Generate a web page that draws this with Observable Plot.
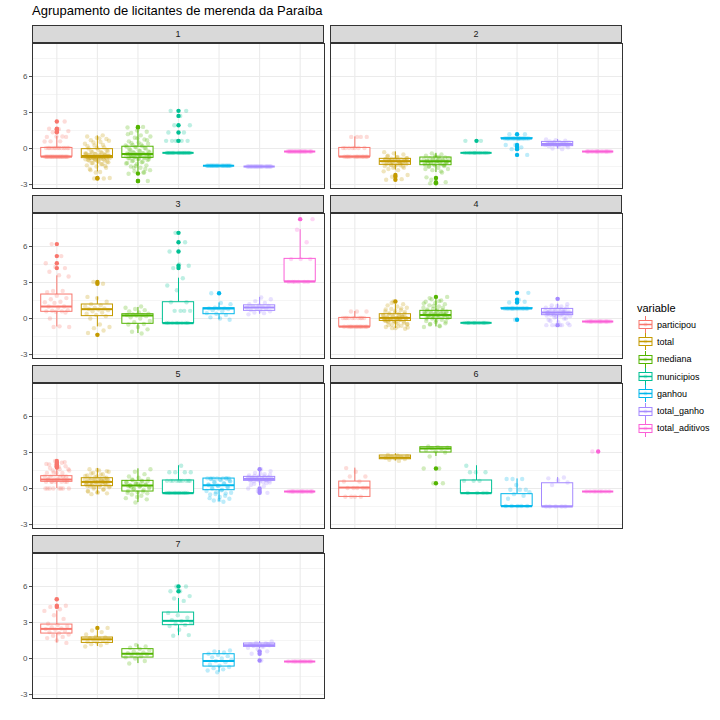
<!DOCTYPE html>
<html><head><meta charset="utf-8">
<script src="https://cdn.jsdelivr.net/npm/d3@7"></script>
<script src="https://cdn.jsdelivr.net/npm/@observablehq/plot@0.6"></script>
<style>
body{margin:0;background:#fff;font-family:"Liberation Sans",Arial,sans-serif;}
#wrap{position:relative;width:720px;height:720px;background:#fff;overflow:hidden;}
.strip{position:absolute;box-sizing:border-box;height:18px;border:1px solid #333;background:#D9D9D9;color:#1A1A1A;font-size:9px;line-height:16px;text-align:center;}
.title{position:absolute;left:32px;top:3px;font-size:13px;color:#000;white-space:nowrap;}
.leg{position:absolute;left:637px;top:302px;font-size:9px;color:#000;}
.leg .lt{font-size:11px;margin-bottom:2px;}
.leg .it{display:flex;align-items:center;height:17.3px;}
.leg .it span{margin-left:3px;}
</style></head>
<body><div id="wrap"></div>
<script>
const variables = ["participou","total","mediana","municipios","ganhou","total_ganho","total_aditivos"];
const colors = ["#F8766D","#C49A00","#53B400","#00C094","#00B6EB","#A58AFF","#FB61D7"];
const clusters = ["1","2","3","4","5","6","7"];
const yTicks = [-3,0,3,6];
const yMinor = [-1.5,1.5,4.5,7.5];
const titleText = "Agrupamento de licitantes de merenda da Paraíba";
const legendTitle = "variable";

// box stats per variable: [lower whisker, q1, median, q3, upper whisker]
const box1 = [[-0.68,-0.68,-0.68,0.05,1.0],[-1.95,-0.8,-0.62,-0.05,1.05],[-1.95,-0.78,-0.45,0.15,1.5],[-0.36,-0.36,-0.36,-0.36,-0.36],[-1.44,-1.44,-1.44,-1.44,-1.44],[-1.5,-1.5,-1.5,-1.5,-1.5],[-0.25,-0.25,-0.25,-0.25,-0.25]];
const box2 = [[-0.68,-0.68,-0.68,0.05,0.97],[-1.8,-1.36,-1.05,-0.86,-0.28],[-2.0,-1.39,-1.05,-0.75,-0.4],[-0.36,-0.36,-0.36,-0.36,-0.36],[0.83,0.83,0.83,0.86,0.86],[-0.05,0.2,0.38,0.55,0.75],[-0.25,-0.25,-0.25,-0.25,-0.25]];
const box3 = [[-0.7,0.56,1.0,2.0,3.55],[-0.7,0.2,0.78,1.17,1.8],[-1.25,-0.44,0.25,0.36,0.92],[-0.39,-0.39,-0.39,1.36,3.36],[-0.1,0.36,0.83,0.86,1.3],[0.35,0.64,0.92,1.1,1.75],[3.08,3.08,3.08,4.97,7.4]];
const box4 = [[-0.68,-0.68,-0.68,0.05,0.58],[-0.83,-0.2,0.05,0.36,1.2],[-0.7,-0.03,0.3,0.64,1.6],[-0.36,-0.36,-0.36,-0.36,-0.36],[0.83,0.83,0.83,0.86,0.86],[-0.4,0.28,0.5,0.8,1.2],[-0.25,-0.25,-0.25,-0.25,-0.25]];
const box5 = [[0.0,0.56,0.75,1.03,1.7],[-0.47,0.2,0.55,0.86,1.67],[-1.17,-0.25,0.25,0.64,1.64],[-0.39,-0.39,-0.39,0.67,1.9],[-1.1,-0.14,0.28,0.83,0.85],[0.2,0.64,0.8,0.97,1.45],[-0.25,-0.25,-0.25,-0.25,-0.25]];
const box6 = [[-0.7,-0.7,0.08,0.58,1.7],[2.3,2.44,2.58,2.75,2.9],[2.67,3.0,3.33,3.44,3.5],[-0.39,-0.39,-0.39,0.67,1.9],[-1.47,-1.47,-1.47,-0.47,0.8],[-1.5,-1.5,-1.5,0.44,0.92],[-0.25,-0.25,-0.25,-0.25,-0.25]];
const box7 = [[1.3,2.08,2.47,2.83,3.97],[1.0,1.3,1.6,1.75,2.33],[-0.42,0.08,0.39,0.78,1.14],[1.9,2.78,3.14,3.83,5.0],[-1.14,-0.67,-0.2,0.36,0.67],[0.8,0.97,1.11,1.25,1.42],[-0.25,-0.25,-0.25,-0.25,-0.25]];

// outliers per variable
const out1 = [[1.35,1.45,1.6,1.65,2.25],[-2.5,-2.45],[-2.08,-2.7,-2.7,1.75,1.8],[0.64,1.33,1.94,2.72,3.14],[],[],[]];
const out2 = [[],[-2.2,-2.35,-2.6],[-2.45,-2.8,-2.9],[0.64],[1.19,0.3,0.12,-0.05,-0.53],[],[]];
const out3 = [[4.2,4.6,5.2,6.2],[-1.36,2.9,3.05],[],[4.2,4.4,5.58,6.36,7.14],[2.1],[],[8.28]];
const out4 = [[],[1.42],[1.8],[],[2.14,1.56,1.33,-0.1],[1.64,-0.55],[]];
const out5 = [[1.75,1.85,1.95,2.05,2.15,2.3],[],[],[],[],[1.6,0.0,-0.2,-0.36],[]];
const out6 = [[],[],[1.67,0.44],[],[],[],[3.08]];
const out7 = [[4.3,4.4,4.94],[2.55],[],[5.6,6.0],[],[0.6,0.4,-0.17],[]];

// jittered observations per variable
const pts1 = [
 [-0.68,-0.68,-0.68,-0.68,-0.68,-0.68,-0.68,-0.68,-0.68,-0.68,-0.68,-0.68,-0.68,-0.68,-0.68,-0.68,-0.68,-0.68,-0.68,-0.68,0.05,0.05,0.05,0.05,0.05,0.05,0.05,0.05,0.05,0.05,0.05,0.05,0.05,0.58,0.6,0.6,0.97,1.0,0.97,1.0,1.35,1.45,1.6,1.65,2.25],
 [-2.5,-2.5,-2.45,-1.95,-1.8,-1.6,-1.5,-1.4,-1.3,-1.2,-1.15,-1.1,-1.0,-1.0,-0.95,-0.9,-0.85,-0.8,-0.8,-0.75,-0.7,-0.7,-0.65,-0.6,-0.6,-0.55,-0.5,-0.45,-0.4,-0.35,-0.3,-0.2,-0.1,0.0,0.1,0.25,0.4,0.55,0.7,0.8,0.9,1.0,1.1,-0.75,-0.65,-0.7,-0.8,-0.6,-0.9,-0.5,
  -1.3,-1.2,-1.1,-1.05,-0.95,-0.9,-0.85,-0.8,-0.78,-0.75,-0.72,-0.7,-0.68,-0.66,-0.64,-0.6,-0.58,-0.55,-0.5,-0.45,-0.4,-0.3,-0.25,-0.15,0.05,0.2,0.3,0.5,0.65,0.85,-1.7,-1.45,-2.0],
 [-2.7,-2.7,-2.1,-2.0,-1.9,-1.8,-1.6,-1.5,-1.4,-1.3,-1.2,-1.1,-1.0,-0.9,-0.85,-0.8,-0.75,-0.7,-0.65,-0.6,-0.55,-0.5,-0.5,-0.45,-0.4,-0.35,-0.3,-0.2,-0.1,0.0,0.1,0.15,0.2,0.3,0.4,0.5,0.6,0.75,0.9,1.0,1.1,1.3,1.4,1.5,1.75,1.8,-0.6,-0.7,-0.5,-0.4,
  -1.7,-1.45,-1.25,-1.15,-1.05,-0.95,-0.88,-0.82,-0.78,-0.72,-0.68,-0.62,-0.58,-0.52,-0.48,-0.42,-0.38,-0.3,-0.25,-0.15,-0.05,0.05,0.12,0.25,0.35,0.45,0.7,0.85,1.2,-2.0,-1.6,-0.6,-0.55,-0.5],
 [-0.36,-0.36,-0.36,-0.36,-0.36,-0.36,-0.36,-0.36,-0.36,-0.36,-0.36,-0.36,-0.36,-0.36,-0.36,-0.36,-0.36,-0.36,-0.36,-0.36,0.64,0.64,0.64,0.64,0.64,0.64,1.33,1.33,1.94,1.94,2.72,3.14,3.14],
 [-1.44,-1.44,-1.44,-1.44,-1.44,-1.44,-1.44,-1.44,-1.44,-1.44,-1.44,-1.44,-1.44,-1.44,-1.44,-1.44,-1.44,-1.44,-1.44,-1.44],
 [-1.5,-1.5,-1.5,-1.5,-1.5,-1.5,-1.5,-1.5,-1.5,-1.5,-1.5,-1.5,-1.5,-1.5,-1.5,-1.5,-1.5,-1.5,-1.5,-1.5],
 [-0.25,-0.25,-0.25,-0.25,-0.25,-0.25,-0.25,-0.25,-0.25,-0.25,-0.25,-0.25,-0.25,-0.25,-0.25,-0.25,-0.25,-0.25,-0.25,-0.25]];
const pts2 = [
 [-0.68,-0.68,-0.68,-0.68,-0.68,-0.68,-0.68,-0.68,-0.68,-0.68,-0.68,-0.68,0.05,0.05,0.05,0.05,0.05,0.05,0.05,0.97,0.97,0.97,0.97],
 [-2.6,-2.55,-2.35,-2.2,-1.8,-1.7,-1.6,-1.5,-1.45,-1.4,-1.35,-1.3,-1.25,-1.2,-1.15,-1.1,-1.1,-1.05,-1.0,-1.0,-0.95,-0.9,-0.9,-0.85,-0.8,-0.7,-0.6,-0.5,-0.4,-0.3,-1.2,-1.0,-1.1,
  -1.4,-1.3,-1.2,-1.15,-1.1,-1.05,-1.0,-0.95,-0.9,-0.88,-1.25,-1.35,-0.8,-0.75,-0.65,-1.5,-1.6,-1.9],
 [-2.9,-2.8,-2.45,-2.4,-2.0,-1.8,-1.7,-1.6,-1.5,-1.45,-1.4,-1.35,-1.3,-1.2,-1.15,-1.1,-1.05,-1.0,-0.95,-0.9,-0.85,-0.8,-0.75,-0.7,-0.6,-0.5,-0.4,-1.1,-1.0,-1.2,
  -1.4,-1.3,-1.25,-1.2,-1.15,-1.1,-1.05,-1.0,-0.95,-0.9,-0.8,-0.7,-1.5,-1.35,-0.6,-1.7,-1.9,-2.6],
 [-0.36,-0.36,-0.36,-0.36,-0.36,-0.36,-0.36,-0.36,-0.36,-0.36,-0.36,-0.36,-0.36,-0.36,0.64,0.64],
 [0.83,0.83,0.83,0.83,0.83,0.83,0.83,0.83,0.83,0.83,0.83,0.83,0.83,0.83,1.19,1.19,0.3,0.3,0.1,-0.05,-0.53],
 [-0.05,0.0,0.1,0.15,0.2,0.25,0.3,0.3,0.35,0.35,0.38,0.4,0.4,0.45,0.5,0.5,0.55,0.6,0.65,0.7,0.75,0.35,0.45,0.25,0.3,0.4,0.45,0.5],
 [-0.25,-0.25,-0.25,-0.25,-0.25,-0.25,-0.25,-0.25,-0.25,-0.25,-0.25,-0.25,-0.25,-0.25,-0.25,-0.25]];
const pts3 = [
 [-0.7,-0.7,-0.65,0.0,0.5,0.56,0.6,0.6,0.65,0.7,0.9,1.0,1.0,1.3,1.35,1.4,1.6,1.7,1.9,2.2,2.3,2.3,3.5,3.6,3.9,4.2,4.3,4.6,5.2,6.2],
 [-1.35,-1.2,-1.0,-0.8,-0.7,-0.5,0.0,0.2,0.3,0.4,0.5,0.6,0.7,0.75,0.8,0.85,0.9,1.0,1.1,1.2,1.4,1.7,1.8,2.9,3.05],
 [-1.25,-1.1,-0.9,-0.7,-0.5,-0.45,-0.3,-0.2,0.0,0.1,0.2,0.25,0.3,0.3,0.35,0.4,0.5,0.6,0.7,0.8,0.9,1.0],
 [-0.36,-0.36,-0.36,-0.36,-0.36,-0.36,-0.36,-0.36,0.64,0.64,0.64,0.64,1.35,1.35,2.35,2.75,3.35,4.2,4.4,4.5,5.58,6.36,7.14],
 [-0.1,0.0,0.1,0.3,0.4,0.45,0.6,0.7,0.8,0.83,0.85,0.85,0.9,1.2,1.3,2.1],
 [0.35,0.45,0.5,0.6,0.65,0.7,0.8,0.85,0.9,0.95,1.0,1.05,1.1,1.2,1.3,1.45,1.6,1.75],
 [3.05,3.05,3.05,3.05,3.05,3.05,4.95,4.95,4.95,6.35,7.4,8.28]];
const pts4 = [
 [-0.68,-0.68,-0.68,-0.68,-0.68,-0.68,-0.68,-0.68,-0.68,-0.68,-0.68,-0.68,0.05,0.05,0.05,0.05,0.05,0.05,0.05,0.05,0.05,0.05,0.58,0.58,0.58],
 [-0.85,-0.8,-0.7,-0.6,-0.5,-0.45,-0.4,-0.3,-0.25,-0.2,-0.15,-0.1,-0.05,0.0,0.05,0.1,0.15,0.2,0.25,0.3,0.35,0.4,0.5,0.6,0.7,0.8,0.9,1.0,1.1,1.2,1.42,0.0,0.05,-0.1,0.1,-0.3,-0.2,0.2,
  -0.8,-0.75,-0.65,-0.55,-0.35,-0.25,-0.15,-0.1,-0.05,0.0,0.05,0.1,0.15,0.2,0.3,0.4,0.45,0.55,0.65,0.75,0.85,1.3,-0.5,0.0,-0.2],
 [-0.7,-0.6,-0.5,-0.4,-0.3,-0.2,-0.1,0.0,0.05,0.1,0.2,0.25,0.3,0.35,0.4,0.45,0.5,0.6,0.65,0.7,0.8,0.9,1.0,1.1,1.2,1.3,1.4,1.5,1.6,1.8,0.3,0.2,0.4,0.1,0.5,
  -0.65,-0.45,-0.25,-0.15,0.0,0.1,0.15,0.2,0.25,0.3,0.35,0.4,0.45,0.5,0.55,0.6,0.7,0.75,0.9,1.05,1.25,1.45,1.7,0.3,0.4],
 [-0.36,-0.36,-0.36,-0.36,-0.36,-0.36,-0.36,-0.36,-0.36,-0.36,-0.36,-0.36,-0.36,-0.36,-0.36,-0.36],
 [0.83,0.83,0.83,0.83,0.83,0.83,0.83,0.83,0.83,0.83,0.83,0.83,0.83,0.83,2.14,1.56,1.33,1.4,-0.1],
 [-0.55,-0.55,-0.55,-0.55,-0.4,-0.3,-0.1,0.0,0.1,0.2,0.25,0.3,0.35,0.4,0.45,0.5,0.55,0.6,0.65,0.7,0.75,0.8,0.9,1.0,1.1,1.2,1.64,0.4,0.5,0.3,
  -0.55,-0.55,-0.2,0.0,0.15,0.25,0.35,0.4,0.45,0.5,0.55,0.6,0.65,0.7,0.8,0.85,0.95,1.05,0.5,0.6],
 [-0.25,-0.25,-0.25,-0.25,-0.25,-0.25,-0.25,-0.25,-0.25,-0.25,-0.25,-0.25,-0.25,-0.25,-0.25,-0.25]];
const pts5 = [
 [0.0,0.0,0.0,0.0,0.0,0.0,0.56,0.56,0.56,0.56,0.56,0.75,0.75,0.75,0.75,0.75,1.0,1.0,1.0,1.0,1.3,1.3,1.3,1.5,1.6,1.8,2.0,2.2,2.3,
  0.0,0.0,0.56,0.56,0.75,0.75,1.0,1.3,1.5,1.6,1.7,1.85,1.95,2.05,2.15],
 [-0.47,-0.4,-0.3,-0.2,-0.1,0.0,0.1,0.15,0.2,0.25,0.3,0.35,0.4,0.45,0.5,0.55,0.6,0.65,0.7,0.75,0.8,0.85,0.9,1.0,1.1,1.2,1.3,1.4,1.5,1.6,0.5,0.6,0.4,0.7,0.3,0.8,
  -0.35,-0.25,-0.05,0.1,0.2,0.3,0.4,0.45,0.5,0.55,0.6,0.65,0.7,0.75,0.85,0.9,0.95,1.05,1.15,1.25,1.45,1.55,0.2,0.55],
 [-1.17,-0.8,-0.6,-0.5,-0.4,-0.3,-0.2,-0.1,0.0,0.1,0.2,0.25,0.3,0.4,0.5,0.6,0.7,0.8,0.9,1.0,1.2,1.4,1.6,0.3,0.1,
  -0.9,-0.7,-0.35,-0.25,-0.05,0.05,0.15,0.25,0.35,0.45,0.55,0.65,0.75,0.6,0.4,0.2],
 [-0.36,-0.36,-0.36,-0.36,-0.36,-0.36,-0.36,-0.36,-0.36,-0.36,-0.36,-0.36,0.64,0.64,0.64,0.64,0.64,0.64,0.64,0.64,0.64,0.64,1.35,1.35,1.35,1.35,1.9],
 [-1.1,-1.0,-0.85,-0.7,-0.5,-0.4,-0.3,-0.2,-0.1,0.0,0.1,0.2,0.3,0.4,0.5,0.6,0.7,0.8,0.83,0.83,0.85,0.85,0.83,0.83,
  -0.95,-0.8,-0.6,-0.45,-0.35,-0.15,0.05,0.15,0.25,0.35,0.45,0.55,0.65,0.75,0.83,0.85],
 [-0.36,-0.2,0.0,0.2,0.4,0.5,0.6,0.65,0.7,0.75,0.8,0.85,0.9,0.95,1.0,1.1,1.2,1.3,1.45,1.6,0.8,0.7,0.75,0.85,
  0.55,0.6,0.65,0.7,0.72,0.75,0.78,0.8,0.82,0.85,0.88,0.9,0.95,1.0,1.05,1.15,1.25,0.3,0.45],
 [-0.25,-0.25,-0.25,-0.25,-0.25,-0.25,-0.25,-0.25,-0.25,-0.25,-0.25,-0.25,-0.25,-0.25,-0.25,-0.25]];
const pts6 = [
 [-0.68,-0.68,-0.68,-0.68,0.05,0.05,0.05,0.05,0.05,0.58,0.58,1.0,1.0,1.4,1.7],
 [2.3,2.4,2.45,2.5,2.55,2.6,2.65,2.7,2.75,2.8],
 [0.44,0.44,1.67,1.67,2.67,3.0,3.1,3.2,3.3,3.35,3.4,3.45,3.5],
 [-0.36,-0.36,-0.36,-0.36,0.64,0.64,0.64,1.35,1.35,1.35,1.9],
 [-1.45,-1.45,-1.45,-1.45,-1.45,-0.85,-0.6,-0.47,-0.3,-0.1,-0.1,-0.1,0.3,0.8,0.8,0.8],
 [-1.5,-1.5,-1.5,-1.5,-1.5,0.3,0.5,0.7,0.85,0.92],
 [-0.25,-0.25,-0.25,-0.25,-0.25,-0.25,-0.25,-0.25,3.08]];
const pts7 = [
 [1.3,1.5,1.7,1.8,1.9,2.0,2.1,2.2,2.3,2.4,2.45,2.5,2.6,2.7,2.8,2.9,3.3,3.6,3.97,4.1,4.3,4.4,4.94],
 [1.0,1.1,1.2,1.3,1.35,1.4,1.5,1.55,1.6,1.65,1.7,1.75,1.8,2.0,2.2,2.33,2.55],
 [-0.42,-0.2,0.0,0.1,0.2,0.3,0.35,0.4,0.45,0.5,0.6,0.7,0.8,0.9,1.0,1.14],
 [1.9,1.95,2.4,2.7,2.8,2.9,3.0,3.1,3.2,3.4,3.6,3.8,4.8,5.0,5.2,5.6,5.6,6.0,6.0],
 [-1.14,-1.0,-0.9,-0.8,-0.7,-0.6,-0.5,-0.3,-0.2,-0.1,0.0,0.1,0.2,0.3,0.4,0.5,0.6,0.67],
 [-0.17,0.4,0.6,0.8,0.9,1.0,1.05,1.1,1.15,1.2,1.25,1.3,1.42,1.0,1.1,1.2],
 [-0.25,-0.25,-0.25,-0.25,-0.25,-0.25,-0.25,-0.25,-0.25,-0.25,-0.25,-0.25]];

const boxes = [box1,box2,box3,box4,box5,box6,box7];
const outs = [out1,out2,out3,out4,out5,out6,out7];
const ptss = [pts1,pts2,pts3,pts4,pts5,pts6,pts7];

const wrap = document.getElementById("wrap");
const FONT = '"Liberation Sans", Arial, sans-serif';
const PW = 292, PH = 145, HW = 0.385, JW = 0.62;
const colX = [32, 330];
const rowTop = [43, 213, 383, 553];

function jit(k, i, c) { // deterministic horizontal spread (display only)
  const f = ((k + 1) * 0.6180339887 + i * 0.137 + c * 0.377) % 1;
  return (f - 0.5) * JW;
}

const t = document.createElement("div");
t.className = "title"; t.textContent = titleText; wrap.appendChild(t);

clusters.forEach((cl, ci) => {
  const col = ci % 2, row = Math.floor(ci / 2);
  const isLeft = col === 0;
  const s = document.createElement("div");
  s.className = "strip";
  s.style.left = colX[col] + "px";
  s.style.top = (rowTop[row] - 18) + "px";
  s.style.width = PW + "px";
  s.textContent = cl;
  wrap.appendChild(s);

  const boxData = boxes[ci].map((b, i) => ({i, v: variables[i], lo: b[0], q1: b[1], med: b[2], q3: b[3], hi: b[4]}));
  const outData = outs[ci].flatMap((arr, i) => arr.map(y => ({i, v: variables[i], y})));
  const ptData = ptss[ci].flatMap((arr, i) => arr.map((y, k) => ({x: i + jit(k, i, ci), v: variables[i], y})));
  const ml = isLeft ? 32 : 0;
  const marks = [
    Plot.ruleY(yMinor, {stroke: "#EBEBEB", strokeWidth: 0.55}),
    Plot.ruleY(yTicks, {stroke: "#EBEBEB", strokeWidth: 1.1}),
    Plot.ruleX(d3.range(variables.length), {stroke: "#EBEBEB", strokeWidth: 1.1}),
    Plot.ruleX(boxData, {x: "i", y1: "q3", y2: "hi", stroke: "v", strokeWidth: 1}),
    Plot.ruleX(boxData, {x: "i", y1: "lo", y2: "q1", stroke: "v", strokeWidth: 1}),
    Plot.rect(boxData.filter(d => d.q3 > d.q1), {x1: d => d.i - HW, x2: d => d.i + HW, y1: "q1", y2: "q3", fill: "white", stroke: "v", strokeWidth: 1}),
    Plot.ruleY(boxData, {y: "med", x1: d => d.i - HW, x2: d => d.i + HW, stroke: "v", strokeWidth: 2}),
    Plot.dot(outData, {x: "i", y: "y", fill: "v", r: 2.2}),
    Plot.dot(ptData, {x: "x", y: "y", fill: "v", fillOpacity: 0.26, r: 2.2}),
    Plot.frame({stroke: "#333", strokeWidth: 1})
  ];
  if (isLeft) marks.push(Plot.axisY(yTicks, {tickSize: 3, tickPadding: 2, fontSize: 8, color: "#4D4D4D", tickFormat: d => String(d)}));
  const chart = Plot.plot({
    width: PW + ml, height: PH,
    marginLeft: ml, marginRight: 0, marginTop: 0, marginBottom: 0,
    x: {domain: [-0.6, 6.6], axis: null},
    y: {domain: [-3.33, 8.75], axis: null},
    color: {domain: variables, range: colors},
    style: {fontFamily: FONT, background: "transparent", overflow: "visible"},
    marks
  });
  chart.style.position = "absolute";
  chart.style.left = (colX[col] - ml) + "px";
  chart.style.top = rowTop[row] + "px";
  wrap.appendChild(chart);
});

// legend
const leg = document.createElement("div");
leg.className = "leg";
let html = `<div class="lt">${legendTitle}</div>`;
variables.forEach((v, i) => {
  const c = colors[i];
  html += `<div class="it"><svg width="17" height="17"><line x1="8.5" x2="8.5" y1="0" y2="17" stroke="${c}" stroke-width="1"/><rect x="2" y="4.5" width="13" height="8" fill="white" stroke="${c}" stroke-width="1"/><line x1="2" x2="15" y1="8.5" y2="8.5" stroke="${c}" stroke-width="1.5"/><circle cx="8.5" cy="8.5" r="2" fill="${c}" fill-opacity="0.25"/></svg><span>${v}</span></div>`;
});
leg.innerHTML = html;
wrap.appendChild(leg);
</script></body></html>
